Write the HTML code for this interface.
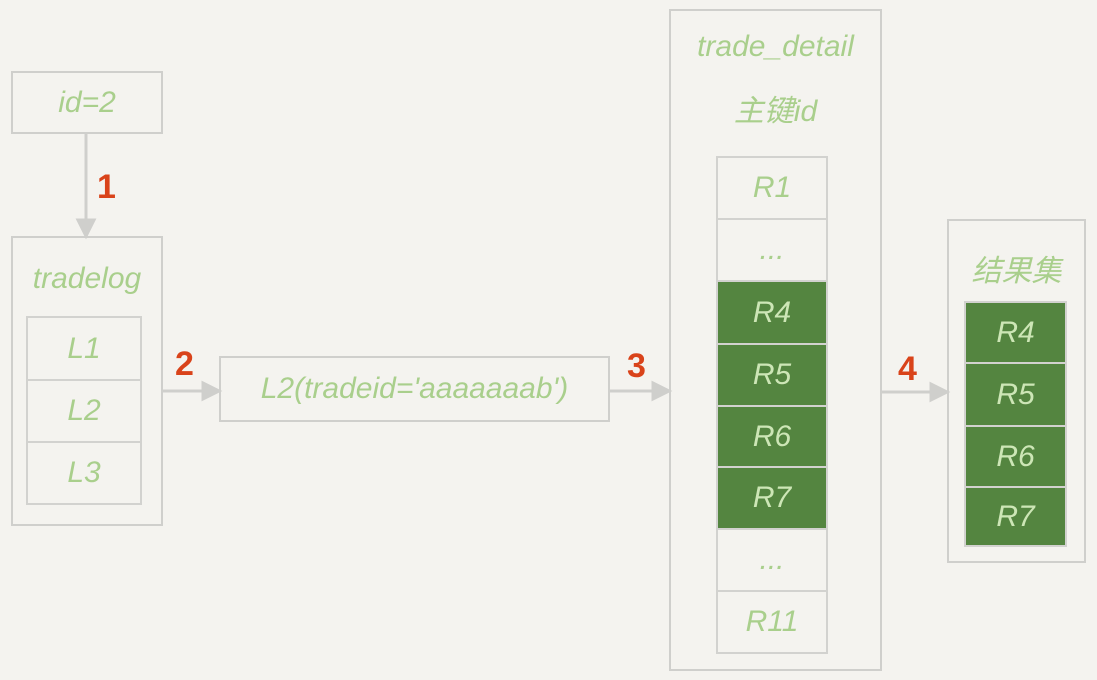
<!DOCTYPE html>
<html><head><meta charset="utf-8"><style>
body{margin:0;width:1097px;height:680px;background:#f4f3ef;position:relative;overflow:hidden;font-family:"Liberation Sans","Noto Sans CJK SC",sans-serif;}
.b{position:absolute;border:2px solid #cfcfcc;box-sizing:border-box;}
.t{position:absolute;color:#a9cf8c;font-size:30px;text-align:center;font-style:italic;}
.c{position:absolute;box-sizing:border-box;border:2px solid #d2d2cf;color:#a9cf8c;font-size:30px;display:flex;align-items:center;justify-content:center;font-style:italic;}
.g{background:#548540;color:#cde6b6;border-color:#d2d2cf;}
.n{position:absolute;color:#d9431a;font-size:34px;font-weight:bold;}
</style></head><body>
<svg width="1097" height="680" style="position:absolute;left:0;top:0">
<g stroke="#cfcfcc" stroke-width="3" fill="#cfcfcc">
<line x1="86" y1="133" x2="86" y2="222"/><polygon points="78,220 94,220 86,236"/>
<line x1="162" y1="391" x2="205" y2="391"/><polygon points="203,383 203,399 219,391"/>
<line x1="609" y1="391" x2="655" y2="391"/><polygon points="653,383 653,399 669,391"/>
<line x1="881" y1="392" x2="933" y2="392"/><polygon points="931,384 931,400 947,392"/>
</g></svg>
<div class="b" style="left:11px;top:71px;width:152px;height:63px"></div>
<div class="t" style="left:11px;top:86px;width:152px">id=2</div>
<div class="n" style="left:97px;top:168px">1</div>
<div class="b" style="left:11px;top:236px;width:152px;height:290px"></div>
<div class="t" style="left:11px;top:262px;width:152px">tradelog</div>
<div class="c" style="left:26px;top:316px;width:116px;height:65px">L1</div>
<div class="c" style="left:26px;top:379px;width:116px;height:64px">L2</div>
<div class="c" style="left:26px;top:441px;width:116px;height:64px">L3</div>
<div class="n" style="left:175px;top:345px">2</div>
<div class="c" style="left:219px;top:356px;width:391px;height:66px;border-color:#cfcfcc">L2(tradeid='aaaaaaab')</div>
<div class="n" style="left:627px;top:347px">3</div>
<div class="b" style="left:669px;top:9px;width:213px;height:662px"></div>
<div class="t" style="left:669px;top:30px;width:213px">trade_detail</div>
<div class="t" style="left:669px;top:86px;width:213px">主键id</div>
<div class="c" style="left:716px;top:156px;width:112px;height:64px">R1</div>
<div class="c" style="left:716px;top:218px;width:112px;height:64px">...</div>
<div class="c g" style="left:716px;top:280px;width:112px;height:65px">R4</div>
<div class="c g" style="left:716px;top:343px;width:112px;height:64px">R5</div>
<div class="c g" style="left:716px;top:405px;width:112px;height:63px">R6</div>
<div class="c g" style="left:716px;top:466px;width:112px;height:64px">R7</div>
<div class="c" style="left:716px;top:528px;width:112px;height:64px">...</div>
<div class="c" style="left:716px;top:590px;width:112px;height:64px">R11</div>
<div class="n" style="left:898px;top:350px">4</div>
<div class="b" style="left:947px;top:219px;width:139px;height:344px"></div>
<div class="t" style="left:947px;top:246px;width:139px">结果集</div>
<div class="c g" style="left:964px;top:301px;width:103px;height:63px">R4</div>
<div class="c g" style="left:964px;top:362px;width:103px;height:65px">R5</div>
<div class="c g" style="left:964px;top:425px;width:103px;height:63px">R6</div>
<div class="c g" style="left:964px;top:486px;width:103px;height:61px">R7</div>
</body></html>
